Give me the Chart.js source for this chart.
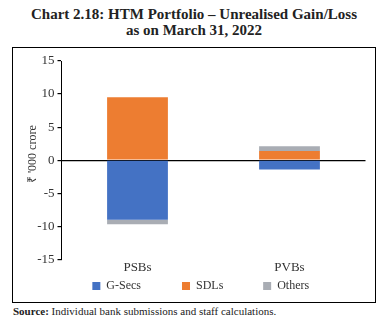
<!DOCTYPE html>
<html>
<head>
<meta charset="utf-8">
<script src="https://cdn.jsdelivr.net/npm/chart.js@4"></script>
<style>
  html, body { margin: 0; padding: 0; background: #fff; }
  body { width: 388px; height: 325px; position: relative; overflow: hidden; }
  .title {
    position: absolute; left: 0; top: 6px; width: 388px;
    text-align: center; font-family: 'Liberation Serif', serif;
    font-weight: bold; font-size: 15px; line-height: 16px; color: #222;
  }
  .frame {
    position: absolute; left: 12px; top: 47px;
    width: 362px; height: 254px; border: 1.5px solid #000;
  }
  .source {
    position: absolute; left: 13px; top: 305px;
    font-family: 'Liberation Serif', serif; font-size: 11px; color: #222;
  }
</style>
</head>
<body>
<div class="title">Chart 2.18: HTM Portfolio – Unrealised Gain/Loss<br>as on March 31, 2022</div>
<div class="frame"><canvas id="htmChart" width="362" height="254"></canvas></div>
<div class="source"><b>Source:</b> Individual bank submissions and staff calculations.</div>
<script>
// ===== Data =====
const categories = ['PSBs', 'PVBs'];
const gSecs = [-9.0, -1.4];
const sdls = [9.5, 1.4];
const others = [-0.7, 0.7];
const yTicks = [-15, -10, -5, 0, 5, 10, 15];

const serif = "'Liberation Serif', serif";
// extra room (px) after each legend entry
const legendGaps = [37, 35, 0];

// pad a legend label with en/thin spaces to roughly px width
function spacer(px) {
    const en = Math.floor(px / 6);
    const thin = Math.round((px - en * 6) / 2.4);
    return '\u2002'.repeat(en) + '\u2009'.repeat(thin);
}

// rotated axis caption placed relative to the plot area
const yTitlePlugin = {
    id: 'yTitle',
    afterDraw(chart, args, opts) {
        const { ctx, chartArea } = chart;
        ctx.save();
        ctx.translate(chartArea.left - opts.offset, (chartArea.top + chartArea.bottom) / 2 - opts.shift);
        ctx.rotate(-Math.PI / 2);
        ctx.font = opts.font;
        ctx.fillStyle = opts.color;
        ctx.textAlign = 'center';
        ctx.textBaseline = 'middle';
        ctx.fillText(opts.text, 0, 0);
        ctx.restore();
    }
};

function initChart() {
    const ctx = document.getElementById('htmChart');
    if (!ctx) return;

    const data = {
        labels: categories,
        datasets: [
            { label: 'G-Secs', data: gSecs, backgroundColor: '#4472C4' },
            { label: 'SDLs', data: sdls, backgroundColor: '#ED7D31' },
            { label: 'Others', data: others, backgroundColor: '#A9ADB4' }
        ].map(ds => Object.assign(ds, {
            barPercentage: 0.4,
            categoryPercentage: 1.0,
            borderWidth: 0
        }))
    };

    const config = {
        type: 'bar',
        data: data,
        plugins: [yTitlePlugin],
        options: {
            responsive: false,
            animation: false,
            layout: {
                padding: { top: 13, right: 9.5, left: 23, bottom: 0 }
            },
            plugins: {
                legend: {
                    position: 'bottom',
                    labels: {
                        boxWidth: 8,
                        boxHeight: 8,
                        padding: 5,
                        color: '#333',
                        font: { family: serif, size: 12 },
                        generateLabels: function(chart) {
                            const items = Chart.defaults.plugins.legend.labels.generateLabels(chart);
                            items.forEach((it, i) => { it.text += spacer(legendGaps[i]); });
                            return items;
                        }
                    }
                },
                yTitle: {
                    text: "₹ '000 crore",
                    font: "12px " + serif,
                    color: '#333',
                    offset: 29,
                    shift: 6
                },
                tooltip: { enabled: false }
            },
            scales: {
                x: {
                    stacked: true,
                    grid: { display: false, drawTicks: false },
                    border: { display: false },
                    ticks: {
                        padding: 0,
                        color: '#333',
                        font: { family: serif, size: 13 }
                    }
                },
                y: {
                    stacked: true,
                    min: yTicks[0],
                    max: yTicks[yTicks.length - 1],
                    afterBuildTicks: function(scale) {
                        scale.ticks = yTicks.map(v => ({ value: v }));
                    },
                    afterFit: function(scale) {
                        scale.width = 25.5;
                    },
                    grid: {
                        color: function(c) {
                            return c.tick && c.tick.value === 0 ? '#000' : 'rgba(0,0,0,0)';
                        },
                        lineWidth: 1.2,
                        tickColor: '#000',
                        tickLength: 4
                    },
                    border: { display: true, color: '#000', width: 1 },
                    ticks: {
                        padding: 3,
                        color: '#333',
                        font: { family: serif, size: 13 }
                    }
                }
            }
        }
    };

    new Chart(ctx, config);
}

document.addEventListener('DOMContentLoaded', initChart);
</script>
</body>
</html>
